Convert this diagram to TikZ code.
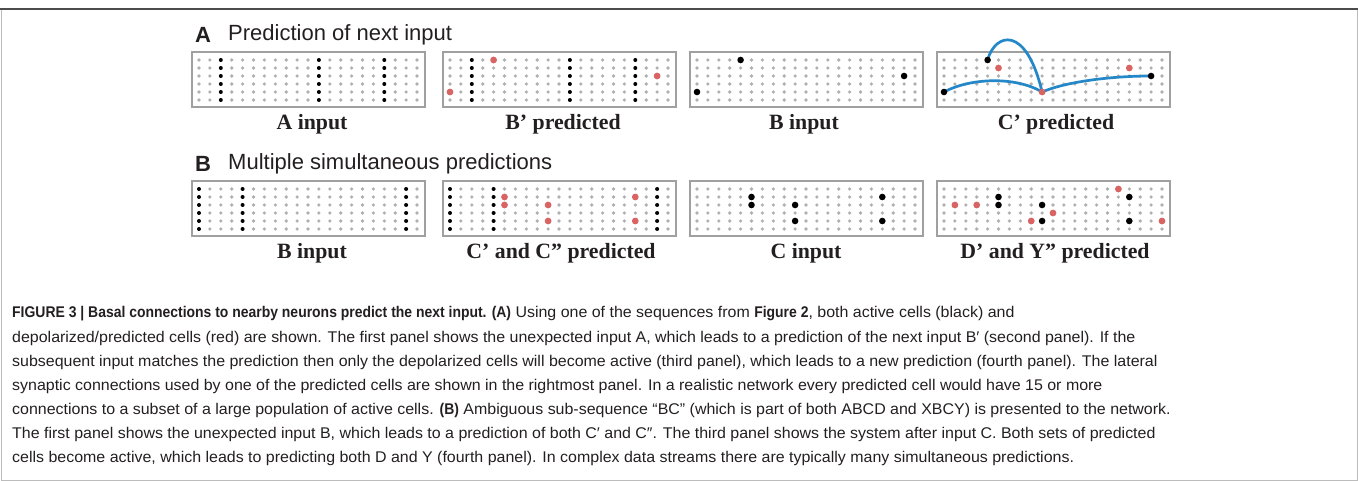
\documentclass[tikz,border=0pt]{standalone}
\usepackage{fontspec}
\setmainfont{Liberation Serif}
\newfontfamily\capfont[FakeStretch=1.03,BoldFeatures={FakeStretch=0.9}]{Liberation Sans}
\newfontfamily\headfont{Liberation Sans}
\definecolor{dotgray}{HTML}{B0B0B0}
\definecolor{framegray}{HTML}{A0A0A0}
\definecolor{predred}{HTML}{D86464}
\definecolor{linkblue}{HTML}{2387C8}
\definecolor{txt}{HTML}{231F20}
\newcommand\cellgrid[2]{%
  \foreach \ci in {0,...,20}{\foreach \ri in {0,...,5}{%
    \fill[dotgray] ({#1+7+10.9*\ci},{#2+8+8*\ri}) circle[radius=1.8pt];}}}
\newcommand\smallblack[4]{\fill[black] ({#1+7+10.9*#3},{#2+8+8*#4}) circle[radius=2pt];}
\newcommand\bigblack[4]{\fill[black] ({#1+7+10.9*#3},{#2+8+8*#4}) circle[radius=3.3pt];}
\newcommand\reddot{}
\renewcommand\reddot[4]{\fill[predred] ({#1+7+10.9*#3},{#2+8+8*#4}) circle[radius=3.4pt];}
\newcommand\blackcol[3]{\foreach \ri in {0,...,5}{\smallblack{#1}{#2}{#3}{\ri}}}
\begin{document}
\begin{tikzpicture}[x=1pt,y=-1pt,
  panelbox/.style={draw=framegray, line width=1.3pt, fill=white, inner sep=0pt, outer sep=0pt,
    minimum width=233pt, minimum height=55pt, anchor=north west},
  plabel/.style={font=\bfseries\fontsize{21.8}{24}\selectfont, text=txt, inner sep=0pt, anchor=base},
  heading/.style={font=\headfont\fontsize{22}{24}\selectfont, text=txt, anchor=west, inner sep=0pt},
  capline/.style={font=\capfont\fontsize{15.5}{18}\selectfont, text=txt, anchor=west, inner sep=0pt},
  conn/.style={draw=linkblue, line width=2.7pt, line cap=round}]
\useasboundingbox (0,0) rectangle (1358,481);
% frame
\draw[framegray!70, line width=1pt] (1,9) rectangle (1357,480);
\draw[black!70, line width=1.5pt] (0,9) -- (1358,9);
% headings
\node[heading] (hA) at (195,35) {\textbf{A}};
\node[heading] (hAt) at (228,35) {Prediction of next input};
\node[heading] (hB) at (195,164) {\textbf{B}};
\node[heading] (hBt) at (228,164) {Multiple simultaneous predictions};
% ---------- row A ----------
\node[panelbox] (pA1) at (192,52) {};
\node[panelbox] (pA2) at (443,52) {};
\node[panelbox] (pA3) at (690,52) {};
\node[panelbox] (pA4) at (937,52) {};
\cellgrid{192}{52}\cellgrid{443}{52}\cellgrid{690}{52}\cellgrid{937}{52}
% A1: input A
\blackcol{192}{52}{2}\blackcol{192}{52}{11}\blackcol{192}{52}{17}
% A2: B' predicted
\blackcol{443}{52}{2}\blackcol{443}{52}{11}\blackcol{443}{52}{17}
\reddot{443}{52}{4}{0}\reddot{443}{52}{0}{4}\reddot{443}{52}{19}{2}
% A3: B input
\bigblack{690}{52}{4}{0}\bigblack{690}{52}{0}{4}\bigblack{690}{52}{19}{2}
% A4: C' predicted with connections
\coordinate (k1) at ({937+7+10.9*4},{52+8});
\coordinate (k2) at ({937+7},{52+8+32});
\coordinate (k3) at ({937+7+10.9*19},{52+8+16});
\coordinate (rc) at ({937+7+10.9*9},{52+8+32});
\draw[conn] (k1) .. controls (995,33) and (1026,24) .. (rc);
\draw[conn] (k2) .. controls (970,78) and (1015,76) .. (rc);
\draw[conn] (rc) .. controls (1065,82) and (1110,76) .. (k3);
\bigblack{937}{52}{4}{0}\bigblack{937}{52}{0}{4}\bigblack{937}{52}{19}{2}
\reddot{937}{52}{5}{1}\reddot{937}{52}{9}{4}\reddot{937}{52}{17}{1}
% labels row A
\node[plabel] (lA1) at (312,130) {A input};
\node[plabel] (lA2) at (563,130) {B’ predicted};
\node[plabel] (lA3) at (804,130) {B input};
\node[plabel] (lA4) at (1056,130) {C’ predicted};
% ---------- row B ----------
\node[panelbox] (pB1) at (192,181) {};
\node[panelbox] (pB2) at (443,181) {};
\node[panelbox] (pB3) at (690,181) {};
\node[panelbox] (pB4) at (937,181) {};
\cellgrid{192}{181}\cellgrid{443}{181}\cellgrid{690}{181}\cellgrid{937}{181}
% B1: B input
\blackcol{192}{181}{0}\blackcol{192}{181}{4}\blackcol{192}{181}{19}
% B2: C' and C'' predicted
\blackcol{443}{181}{0}\blackcol{443}{181}{4}\blackcol{443}{181}{19}
\reddot{443}{181}{5}{1}\reddot{443}{181}{5}{2}\reddot{443}{181}{9}{2}
\reddot{443}{181}{9}{4}\reddot{443}{181}{17}{1}\reddot{443}{181}{17}{4}
% B3: C input
\bigblack{690}{181}{5}{1}\bigblack{690}{181}{5}{2}\bigblack{690}{181}{9}{2}
\bigblack{690}{181}{9}{4}\bigblack{690}{181}{17}{1}\bigblack{690}{181}{17}{4}
% B4: D' and Y'' predicted
\bigblack{937}{181}{5}{1}\bigblack{937}{181}{5}{2}\bigblack{937}{181}{9}{2}
\bigblack{937}{181}{9}{4}\bigblack{937}{181}{17}{1}\bigblack{937}{181}{17}{4}
\reddot{937}{181}{1}{2}\reddot{937}{181}{3}{2}\reddot{937}{181}{10}{3}
\reddot{937}{181}{8}{4}\reddot{937}{181}{16}{0}\reddot{937}{181}{20}{4}
% labels row B
\node[plabel] (lB1) at (312,259) {B input};
\node[plabel] (lB2) at (561,259) {C’ and C” predicted};
\node[plabel] (lB3) at (806,259) {C input};
\node[plabel] (lB4) at (1055,259) {D’ and Y” predicted};
% ---------- caption ----------
\node[capline] (c1) at (12,314) {\textbf{FIGURE 3 | Basal connections to nearby neurons predict the next input. (A)} Using one of the sequences from \textbf{Figure 2}, both active cells (black) and};
\node[capline] (c2) at (12,338) {depolarized/predicted cells (red) are shown. The first panel shows the unexpected input A, which leads to a prediction of the next input B′ (second panel). If the};
\node[capline] (c3) at (12,362) {subsequent input matches the prediction then only the depolarized cells will become active (third panel), which leads to a new prediction (fourth panel). The lateral};
\node[capline] (c4) at (12,386) {synaptic connections used by one of the predicted cells are shown in the rightmost panel. In a realistic network every predicted cell would have 15 or more};
\node[capline] (c5) at (12,410) {connections to a subset of a large population of active cells. \textbf{(B)} Ambiguous sub-sequence “BC” (which is part of both ABCD and XBCY) is presented to the network.};
\node[capline] (c6) at (12,434) {The first panel shows the unexpected input B, which leads to a prediction of both C′ and C″. The third panel shows the system after input C. Both sets of predicted};
\node[capline] (c7) at (12,458) {cells become active, which leads to predicting both D and Y (fourth panel). In complex data streams there are typically many simultaneous predictions.};
\end{tikzpicture}
\end{document}
